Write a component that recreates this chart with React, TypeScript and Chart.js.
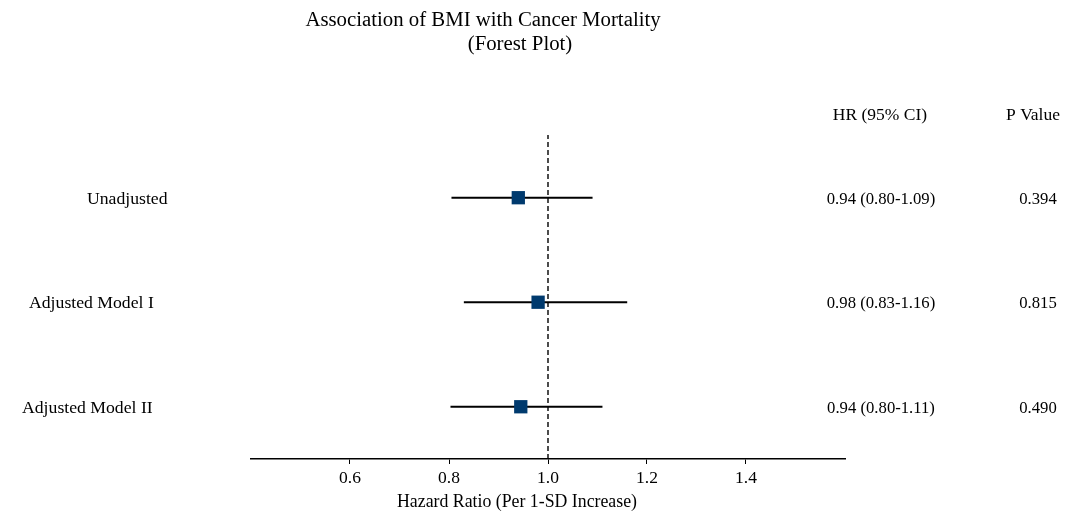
import React, { useEffect, useRef } from "react";
import { Chart, registerables } from "chart.js";

Chart.register(...registerables);

// ---- data ----
const models = ["Unadjusted", "Adjusted Model I", "Adjusted Model II"];
const rowPos = [3, 2, 1];
const hr = [0.94, 0.98, 0.945];
const ciLow = [0.805, 0.83, 0.803];
const ciHigh = [1.09, 1.16, 1.11];
const hrText = ["0.94 (0.80-1.09)", "0.98 (0.83-1.16)", "0.94 (0.80-1.11)"];
const pText = ["0.394", "0.815", "0.490"];
const xTicks = [0.6, 0.8, 1.0, 1.2, 1.4];
const titleLines = ["Association of BMI with Cancer Mortality", "(Forest Plot)"];
const xTitle = "Hazard Ratio (Per 1-SD Increase)";
const headerHR = "HR (95% CI)";
const headerP = "P Value";

// ---- style / layout ----
const FONT = "'Liberation Serif', 'Times New Roman', serif";
const NAVY = "#003a6e";
const W = 1067;
const H = 514;
const labelLeftX = [87, 29, 22];
const titleCenters = [{ x: 483, y: 21 }, { x: 520, y: 45 }];
const TEXT_DY = 1.5;

const textPlugin = {
  id: "forestText",
  afterDraw(chart: any) {
    const ctx = chart.ctx;
    const y = chart.scales.y;
    ctx.save();
    ctx.fillStyle = "#000";
    ctx.textBaseline = "middle";
    // title
    ctx.font = `20.8px ${FONT}`;
    ctx.textAlign = "center";
    titleLines.forEach((t, i) => ctx.fillText(t, titleCenters[i].x, titleCenters[i].y));
    // headers
    ctx.font = `17.5px ${FONT}`;
    ctx.fillText(headerHR, 880, 115);
    ctx.fillText(headerP, 1033, 115);
    // x-axis title
    ctx.font = `17.8px ${FONT}`;
    ctx.fillText(xTitle, 517, 502);
    // rows
    models.forEach((m, i) => {
      const py = y.getPixelForValue(rowPos[i]) + TEXT_DY;
      ctx.textAlign = "left";
      ctx.font = `17.7px ${FONT}`;
      ctx.fillText(m, labelLeftX[i], py);
      ctx.textAlign = "center";
      ctx.font = `16.7px ${FONT}`;
      ctx.fillText(hrText[i], 881, py);
      ctx.fillText(pText[i], 1038, py);
    });
    ctx.restore();
  },
};

export default function App() {
  const ref = useRef<HTMLCanvasElement>(null);
  useEffect(() => {
    if (!ref.current) return;
    const ciSets = models.map((m, i) => ({
      type: "line" as const,
      label: m + " CI",
      data: [
        { x: ciLow[i], y: rowPos[i] },
        { x: ciHigh[i], y: rowPos[i] },
      ],
      borderColor: "#000",
      borderWidth: 2,
      pointRadius: 0,
      showLine: true,
    }));
    const chart = new Chart(ref.current, {
      type: "scatter",
      data: {
        datasets: [
          {
            label: "HR",
            data: hr.map((v, i) => ({ x: v, y: rowPos[i] })),
            pointStyle: "rect",
            pointRadius: 9.4,
            backgroundColor: NAVY,
            borderColor: NAVY,
            borderWidth: 0,
          } as any,
          ...ciSets,
          {
            type: "line",
            label: "ref",
            data: [
              { x: 1, y: 0.5 },
              { x: 1, y: 3.6 },
            ],
            borderColor: "#000",
            borderWidth: 1.4,
            borderDash: [5, 3],
            pointRadius: 0,
            showLine: true,
          } as any,
        ],
      },
      options: {
        animation: false,
        responsive: false,
        layout: { padding: { left: 251, right: W - 845, top: 135, bottom: 0 } },
        plugins: { legend: { display: false }, tooltip: { enabled: false }, title: { display: false } },
        scales: {
          x: {
            type: "linear",
            min: 0.4,
            max: 1.6,
            afterBuildTicks: (s: any) => {
              s.ticks = xTicks.map((v) => ({ value: v }));
            },
            afterFit: (s: any) => {
              s.height = 55;
            },
            grid: { drawOnChartArea: false, drawTicks: true, tickLength: 5, color: "#000", lineWidth: 1 },
            border: { display: true, color: "#000", width: 1.5 },
            ticks: {
              color: "#000",
              font: { family: FONT, size: 17.5 },
              padding: 4,
              maxRotation: 0,
              callback: (v: any) => Number(v).toFixed(1),
            },
            title: { display: false },
          },
          y: { type: "linear", min: 0.5, max: 3.6, display: false },
        },
      },
      plugins: [textPlugin],
    });
    return () => chart.destroy();
  }, []);
  return (
    <div style={{ position: "absolute", left: 0, top: 0, width: W, height: H, background: "#fff" }}>
      <canvas ref={ref} width={W} height={H} style={{ display: "block" }} />
    </div>
  );
}
